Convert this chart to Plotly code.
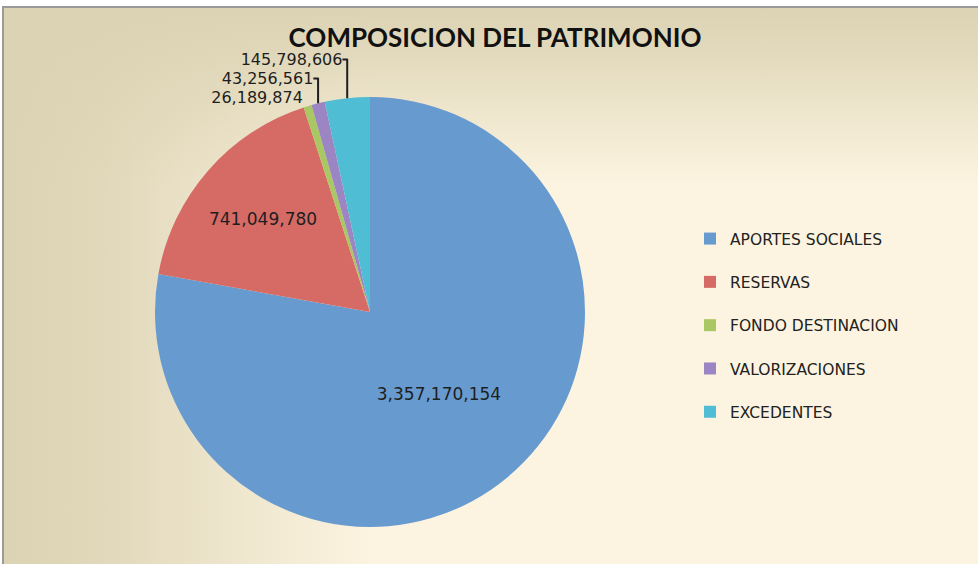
import base64
import plotly.graph_objects as go

categories = ["APORTES SOCIALES", "RESERVAS", "FONDO DESTINACION", "VALORIZACIONES", "EXCEDENTES"]
values = [3357170154, 741049780, 26189874, 43256561, 145798606]
colors = ["#679bd0", "#d66b66", "#a9c763", "#9b85c2", "#4fbdd4"]
title_text = "COMPOSICION DEL PATRIMONIO"

W, H = 978, 564

svg = f'''<svg xmlns="http://www.w3.org/2000/svg" width="975" height="557" viewBox="0 0 975 557" preserveAspectRatio="none">
<defs>
<linearGradient id="h" x1="0" y1="0" x2="1" y2="0">
<stop offset="0" stop-color="#dcd3b4" stop-opacity="1"/>
<stop offset="0.10" stop-color="#dcd3b4" stop-opacity="0.85"/>
<stop offset="0.38" stop-color="#dcd3b4" stop-opacity="0"/>
</linearGradient>
<linearGradient id="v" x1="0" y1="0" x2="0" y2="1">
<stop offset="0" stop-color="#dcd3b4" stop-opacity="1"/>
<stop offset="0.08" stop-color="#dcd3b4" stop-opacity="0.8"/>
<stop offset="0.32" stop-color="#dcd3b4" stop-opacity="0"/>
</linearGradient>
</defs>
<rect width="975" height="557" fill="#fcf4e0"/>
<rect width="975" height="557" fill="url(#h)"/>
<rect width="975" height="557" fill="url(#v)"/>
</svg>'''
bg_src = "data:image/svg+xml;base64," + base64.b64encode(svg.encode()).decode()

legend_labels = [c + "<br> " for c in categories]

cx, cy, r = 370, 312, 215
fig = go.Figure(go.Pie(
    labels=legend_labels,
    values=values,
    marker=dict(colors=colors, line=dict(width=0)),
    sort=False,
    direction="clockwise",
    rotation=0,
    texttemplate="%{value:,}",
    textposition=["inside", "inside", "outside", "outside", "outside"],
    textfont=dict(family="DejaVu Sans", size=17, color="#1e1e1e"),
    outsidetextfont=dict(family="DejaVu Sans", size=16, color="#1e1e1e"),
    insidetextorientation="horizontal",
    domain=dict(x=[(cx - r) / W, (cx + r) / W], y=[1 - (cy + r) / H, 1 - (cy - r) / H]),
    hovertemplate="%{label}: %{value:,}<extra></extra>",
))

fig.update_layout(
    width=W, height=H,
    margin=dict(l=0, r=0, t=0, b=0),
    paper_bgcolor="white",
    title=dict(text=title_text, x=495 / W, xanchor="center", y=1 - 38 / H, yanchor="middle",
               font=dict(family="Lato", size=26, color="#111111", weight="bold")),
    legend=dict(x=690 / W, y=1 - 222 / H, xanchor="left", yanchor="top",
                font=dict(family="DejaVu Sans", size=15.5, color="#222222"),
                valign="top", bgcolor="rgba(0,0,0,0)"),
    images=[dict(source=bg_src, xref="paper", yref="paper", x=3 / W, y=1 - 7 / H,
                 sizex=975 / W, sizey=557 / H, xanchor="left", yanchor="top",
                 sizing="stretch", layer="below")],
    shapes=[
        dict(type="line", xref="paper", yref="paper", x0=2 / W, x1=1, y0=1 - 7 / H, y1=1 - 7 / H,
             line=dict(color="#9a9a9a", width=2)),
        dict(type="line", xref="paper", yref="paper", x0=3 / W, x1=3 / W, y0=1 - 7 / H, y1=0,
             line=dict(color="#9a9a9a", width=2)),
    ],
)

fig.write_html("out.html", config={"displayModeBar": False},
               post_script="document.body.style.margin='0px';")
